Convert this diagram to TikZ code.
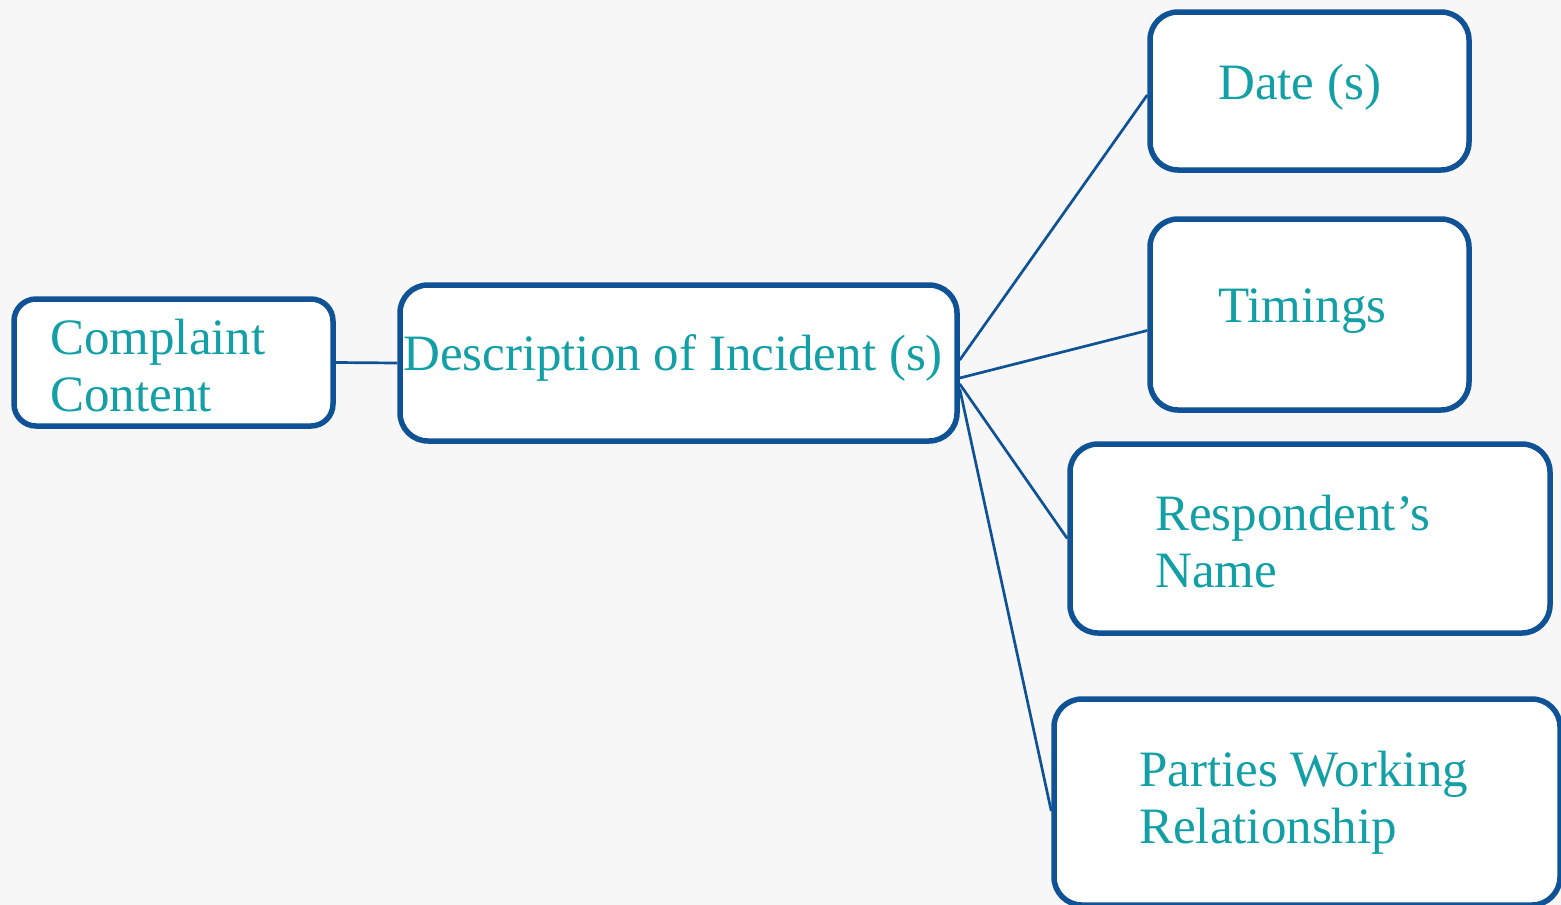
\documentclass[tikz,border=0pt]{standalone}
\usepackage{fontspec}
\setmainfont{Liberation Serif}
\definecolor{boxblue}{HTML}{0F5296}
\definecolor{tealtext}{HTML}{12A0A6}
\definecolor{paper}{HTML}{F7F7F7}
\begin{document}
\begin{tikzpicture}[x=1pt,y=-1pt,
  box/.style={draw=boxblue,line width=5.5pt,fill=white,rounded corners=28pt,inner sep=0pt},
  lbl/.style={text=tealtext,font=\fontsize{51}{57}\selectfont,inner sep=0pt,anchor=base west},
  link/.style={draw=boxblue,line width=2.7pt}]
  % page and background
  \fill[paper] (0,0) rectangle (1561,905);
  \useasboundingbox (0,0) rectangle (1561,905);

  % boxes
  \node[box,rounded corners=22pt,minimum width=319pt,minimum height=127pt] (cc) at (173.5,362.5) {};
  \node[box,minimum width=557pt,minimum height=156pt] (desc) at (678.5,363) {};
  \node[box,minimum width=319pt,minimum height=158pt] (date) at (1309.5,91) {};
  \node[box,minimum width=319pt,minimum height=191pt] (tim) at (1309.5,314.5) {};
  \node[box,minimum width=480pt,minimum height=189pt] (resp) at (1310,538.5) {};
  \node[box,minimum width=506pt,minimum height=206pt] (part) at (1307,802) {};

  % connectors
  \draw[link] (cc.east) -- (desc.west);
  \draw[link] ([yshift=3pt]desc.east) -- ([yshift=-4pt]date.west);
  \draw[link] ([yshift=-15pt]desc.east) -- ([yshift=-16pt]tim.west);
  \draw[link] ([yshift=-21pt]desc.east) -- (resp.west);
  \draw[link] ([yshift=-26pt]desc.east) -- ([yshift=-9pt]part.west);

  % labels
  \node[lbl] (ccA) at (50,354) {Complaint};
  \node[lbl] (ccB) at (50,411) {Content};
  \node[lbl] (descT) at (403,370) {Description of Incident (s)};
  \node[lbl] (dateT) at (1218,99) {Date (s)};
  \node[lbl] (timT) at (1218,322) {Timings};
  \node[lbl] (respA) at (1155,530) {Respondent’s};
  \node[lbl] (respB) at (1155,587) {Name};
  \node[lbl] (partA) at (1139,786) {Parties Working};
  \node[lbl] (partB) at (1139,843) {Relationship};
\end{tikzpicture}
\end{document}
